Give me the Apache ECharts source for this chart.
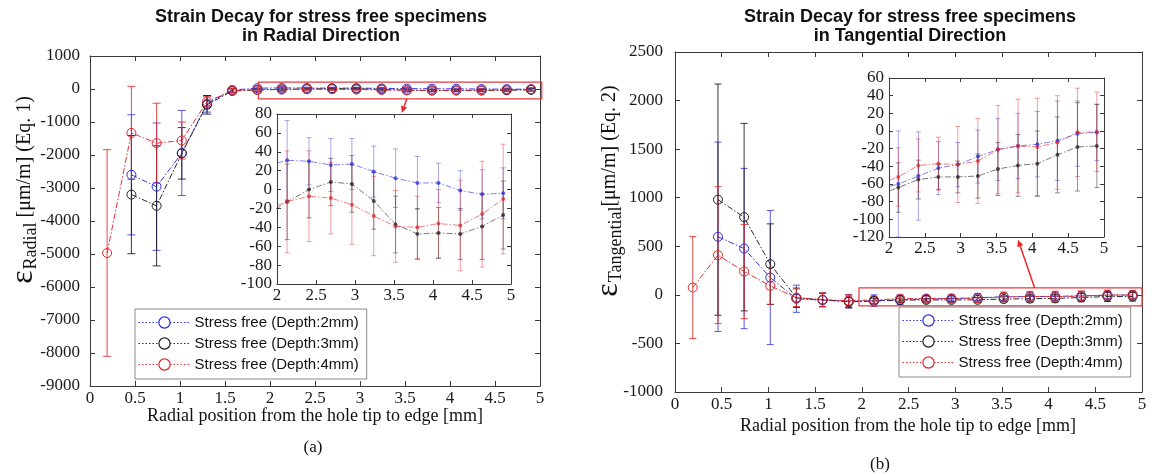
<!DOCTYPE html>
<html><head><meta charset="utf-8">
<script src="https://cdn.jsdelivr.net/npm/echarts@6/dist/echarts.min.js"></script>
<style>html,body{margin:0;padding:0;background:#fff}#c{width:1154px;height:475px}</style>
</head><body><div id="c"></div>
<script>
// ---------- data ----------
const seriesNames = ['Stress free (Depth:2mm)', 'Stress free (Depth:3mm)', 'Stress free (Depth:4mm)'];
const xPos = [0.46, 0.74, 1.02, 1.30, 1.58, 1.86, 2.13, 2.41, 2.69, 2.96, 3.24, 3.52, 3.80, 4.07, 4.35, 4.63, 4.90];
const xPosRed = [0.19, 0.46, 0.74, 1.02, 1.30, 1.58, 1.86, 2.13, 2.41, 2.69, 2.96, 3.24, 3.52, 3.80, 4.07, 4.35, 4.63, 4.90];

// Radial strain (panel a)
const radBlue     = [-2600, -2960, -1940, -450, -30, 25, 31, 30, 26, 27, 19, 12, 7, 7, -1, -5, -4];
const radBlueErr  = [1820, 1930, 1290, 250, 60, 40, 42, 25, 28, 27, 27, 31, 28, 21, 21, 26, 27];
const radBlack    = [-3200, -3540, -1950, -480, -60, -27, -13, 0, 8, 6, -12, -37, -47, -46, -47, -39, -27];
const radBlackErr = [1790, 1820, 780, 280, 60, 40, 40, 30, 25, 30, 30, 30, 27, 27, 27, 35, 36];
const radRed      = [-4970, -1330, -1640, -1560, -385, -50, -21, -13, -7, -9, -16, -28, -39, -40, -36, -38, -26, -10];
const radRedErr   = [3130, 1410, 1210, 560, 150, 60, 50, 54, 48, 38, 42, 42, 38, 33, 36, 48, 56, 58];

// Tangential strain (panel b)
const tanBlue     = [598, 477, 178, -40, -55, -66, -60, -51, -42, -38, -29, -21, -17, -15, -11, -3, -1.5];
const tanBlueErr  = [975, 825, 690, 140, 70, 70, 60, 50, 30, 25, 30, 35, 37, 37, 45, 37, 32];
const tanBlack    = [980, 800, 316, -30, -50, -72, -64, -55, -52, -52, -51, -43, -39, -37, -27, -18, -17];
const tanBlackErr = [1190, 965, 415, 100, 70, 60, 28, 22, 14, 18, 25, 30, 35, 37, 43, 50, 47];
const tanRed      = [75, 409, 240, 93, -30, -50, -60, -52, -39, -37, -38, -34, -21, -17, -18, -13, -1.5, -1];
const tanRedErr   = [525, 705, 485, 190, 90, 70, 60, 33, 30, 30, 43, 48, 50, 53, 55, 53, 50, 45];

// zoom boxes [xmin, xmax, ymin, ymax] in data units of the main plots
const boxRad = [1.87, 5.02, -300, 210];
const boxTan = [1.97, 5.0, -113, 72];

// ---------- styling ----------
const SERIF = 'Liberation Serif', SANS = 'Liberation Sans';
const COL = {blue: '#2b2be0', black: '#222222', red: '#e3262b'};
const ERRCOL = {blue: 'rgba(60,60,220,0.85)', black: 'rgba(20,20,20,0.85)', red: 'rgba(230,40,45,0.85)'};
const ERRCOL_IN = {blue: 'rgba(60,60,220,0.45)', black: 'rgba(20,20,20,0.45)', red: 'rgba(230,40,45,0.45)'};
const DASHDOT = [6, 2, 1.5, 2];

function axes(gridIndex, min, max, interval, isX, tickLen, margin, z) {
  const common = {
    type: 'value', gridIndex, min, max, interval, z,
    axisLine: {show: true, onZero: false, lineStyle: {color: '#3a3a3a', width: 1}},
    axisTick: {show: true, inside: true, length: tickLen, lineStyle: {color: '#3a3a3a', width: 1}},
    splitLine: {show: false},
    axisPointer: {show: false}
  };
  const main = Object.assign({}, common, {
    position: isX ? 'bottom' : 'left',
    axisLabel: {show: true, margin, fontFamily: SERIF, fontSize: 17, color: '#1a1a1a',
      formatter: function (v) { return '{n|' + String(Math.round(v * 100) / 100) + '}'; },
      rich: {n: {fontFamily: SERIF, fontSize: 17, color: '#1a1a1a'}}}
  });
  const mirror = Object.assign({}, common, {
    position: isX ? 'top' : 'right',
    axisLabel: {show: false}
  });
  return [main, mirror];
}

function lineS(name, xs, ys, color, ai, inset) {
  const s = {
    name, type: 'line', xAxisIndex: ai, yAxisIndex: ai, clip: true, animation: false, silent: true,
    data: xs.map((x, i) => [x, ys[i]]),
    lineStyle: {color, width: inset ? 0.8 : 1, type: DASHDOT, opacity: inset ? 0.75 : 0.95},
    z: inset ? 13 : 3
  };
  if (inset) {
    s.symbol = 'circle'; s.symbolSize = 4;
    s.itemStyle = {color, opacity: 0.75};
  } else {
    s.symbol = 'circle'; s.symbolSize = 9;
    s.itemStyle = {color: 'rgba(255,255,255,0)', borderColor: color, borderWidth: 1};
  }
  return s;
}

function errS(xs, ys, es, color, ai, cap, z) {
  return {
    type: 'custom', xAxisIndex: ai, yAxisIndex: ai, clip: true, silent: true, animation: false, z,
    data: xs.map((x, i) => [x, ys[i], es[i]]),
    encode: {x: 0, y: 1},
    renderItem: function (params, api) {
      const x = api.value(0), y = api.value(1), e = api.value(2);
      const t = api.coord([x, y + e]), b = api.coord([x, y - e]);
      const st = {stroke: color, lineWidth: 1};
      return {type: 'group', children: [
        {type: 'line', shape: {x1: t[0], y1: t[1], x2: b[0], y2: b[1]}, style: st},
        {type: 'line', shape: {x1: t[0] - cap, y1: t[1], x2: t[0] + cap, y2: t[1]}, style: st},
        {type: 'line', shape: {x1: b[0] - cap, y1: b[1], x2: b[0] + cap, y2: b[1]}, style: st}
      ]};
    }
  };
}

function boxS(box, ai) {
  return {
    type: 'custom', xAxisIndex: ai, yAxisIndex: ai, clip: false, silent: true, animation: false, z: 6,
    data: [box], encode: {x: [0, 1], y: [2, 3]},
    renderItem: function (params, api) {
      const a = api.coord([api.value(0), api.value(3)]);
      const b = api.coord([api.value(1), api.value(2)]);
      return {type: 'rect', shape: {x: a[0], y: a[1], width: b[0] - a[0], height: b[1] - a[1]},
        style: {fill: 'none', stroke: '#e8393c', lineWidth: 1.2}};
    }
  };
}

function fromX(xs, vals, lo) {
  const ox = [], ov = [];
  xs.forEach((x, i) => { if (x >= lo) { ox.push(x); ov.push(vals[i]); } });
  return [ox, ov];
}

// ---------- chart ----------
const chart = echarts.init(document.getElementById('c'), null, {renderer: 'canvas'});

const grids = [
  {left: 90, top: 56, width: 450, height: 330, outerBoundsMode: 'none'},
  {left: 277, top: 114, width: 234, height: 170, show: true, backgroundColor: '#fff', borderWidth: 0, z: 10, outerBoundsMode: 'none'},
  {left: 675, top: 52, width: 467, height: 340, outerBoundsMode: 'none'},
  {left: 889, top: 78, width: 215, height: 159, show: true, backgroundColor: '#fff', borderWidth: 0, z: 10, outerBoundsMode: 'none'}
];

const xAxes = [].concat(
  axes(0, 0, 5, 0.5, true, 5, 4, 2),
  axes(1, 2, 5, 0.5, true, 4, 3, 12),
  axes(2, 0, 5, 0.5, true, 5, 4, 2),
  axes(3, 2, 5, 0.5, true, 4, 3, 12)
);
const yAxes = [].concat(
  axes(0, -9000, 1000, 1000, false, 5, 10, 2),
  axes(1, -100, 80, 20, false, 4, 5, 12),
  axes(2, -1000, 2500, 500, false, 5, 12, 2),
  axes(3, -120, 60, 20, false, 4, 5, 12)
);

const series = [];
// Panel a main (axis index 0)
series.push(errS(xPos, radBlue, radBlueErr, ERRCOL.blue, 0, 4, 2));
series.push(errS(xPos, radBlack, radBlackErr, ERRCOL.black, 0, 4, 2));
series.push(errS(xPosRed, radRed, radRedErr, ERRCOL.red, 0, 4, 2));
series.push(lineS(seriesNames[0], xPos, radBlue, COL.blue, 0, false));
series.push(lineS(seriesNames[1], xPos, radBlack, COL.black, 0, false));
series.push(lineS(seriesNames[2], xPosRed, radRed, COL.red, 0, false));
series.push(boxS(boxRad, 0));
// Panel b main (axis index 4)
series.push(errS(xPos, tanBlue, tanBlueErr, ERRCOL.blue, 4, 3.5, 2));
series.push(errS(xPos, tanBlack, tanBlackErr, ERRCOL.black, 4, 3.5, 2));
series.push(errS(xPosRed, tanRed, tanRedErr, ERRCOL.red, 4, 3.5, 2));
series.push(lineS(seriesNames[0], xPos, tanBlue, COL.blue, 4, false));
series.push(lineS(seriesNames[1], xPos, tanBlack, COL.black, 4, false));
series.push(lineS(seriesNames[2], xPosRed, tanRed, COL.red, 4, false));
series.push(boxS(boxTan, 4));
// Insets (axis index 2 and 6)
[[2, radBlue, radBlueErr, radBlack, radBlackErr, radRed, radRedErr],
 [6, tanBlue, tanBlueErr, tanBlack, tanBlackErr, tanRed, tanRedErr]].forEach(function (p) {
  const ai = p[0];
  const sets = [[xPos, p[1], p[2], 'blue', 0], [xPos, p[3], p[4], 'black', 1], [xPosRed, p[5], p[6], 'red', 2]];
  sets.forEach(function (s) {
    const e = fromX(s[0], s[2], 2.0);
    const ev = fromX(s[0], s[1], 2.0);
    series.push(errS(e[0], ev[1], e[1], ERRCOL_IN[s[3]], ai, 2.5, 12));
  });
  sets.forEach(function (s) {
    const v = fromX(s[0], s[1], 1.8);
    series.push(lineS(seriesNames[s[4]], v[0], v[1], COL[s[3]], ai, true));
  });
});

const legendCommon = {
  data: seriesNames, orient: 'vertical', itemWidth: 52, itemHeight: 14, itemGap: 6,
  padding: [6, 8, 7, 3], backgroundColor: '#fff', borderColor: '#8a8a8a', borderWidth: 1, borderRadius: 0,
  textStyle: {fontFamily: SANS, fontSize: 15, color: '#111', padding: [0, 0, 0, -1]},
  lineStyle: {type: [1.5, 2], width: 1},
  itemStyle: {color: '#fff', borderWidth: 1.2},
  selectedMode: false, z: 20
};

chart.setOption({
  animation: false,
  backgroundColor: '#fff',
  textStyle: {fontFamily: SERIF},
  title: [
    {text: 'Strain Decay for stress free specimens\nin Radial Direction', left: 316, top: 3, textAlign: 'center',
     textStyle: {fontFamily: SANS, fontWeight: 'bold', fontSize: 18, lineHeight: 19, color: '#111'}},
    {text: 'Strain Decay for stress free specimens\nin Tangential Direction', left: 905, top: 3, textAlign: 'center',
     textStyle: {fontFamily: SANS, fontWeight: 'bold', fontSize: 18, lineHeight: 19, color: '#111'}}
  ],
  legend: [
    Object.assign({}, legendCommon, {left: 135, top: 309}),
    Object.assign({}, legendCommon, {left: 899, top: 307})
  ],
  grid: grids,
  xAxis: xAxes,
  yAxis: yAxes,
  series: series
});

// ---------- texts and arrows ----------
function arrow(p0, p1) {
  const dx = p1[0] - p0[0], dy = p1[1] - p0[1], L = Math.sqrt(dx * dx + dy * dy);
  const ux = dx / L, uy = dy / L, hl = 7, hw = 3.2;
  const bx = p1[0] - ux * hl, by = p1[1] - uy * hl;
  return [
    {type: 'line', z: 30, shape: {x1: p0[0], y1: p0[1], x2: bx, y2: by}, style: {stroke: '#e8262b', lineWidth: 1.5}},
    {type: 'polygon', z: 30, shape: {points: [[p1[0], p1[1]], [bx - uy * hw, by + ux * hw], [bx + uy * hw, by - ux * hw]]},
     style: {fill: '#e8262b'}}
  ];
}
const aS = chart.convertToPixel({xAxisIndex: 0, yAxisIndex: 0}, [3.52, boxRad[2]]);
const aE = chart.convertToPixel({xAxisIndex: 2, yAxisIndex: 2}, [3.60, 81]);
const bS = chart.convertToPixel({xAxisIndex: 4, yAxisIndex: 4}, [3.85, boxTan[3]]);
const bE = chart.convertToPixel({xAxisIndex: 6, yAxisIndex: 6}, [3.80, -123]);

const ylabRich = {
  e: {fontFamily: SERIF, fontSize: 32, lineHeight: 32, verticalAlign: 'bottom', padding: [0, 1, 0, 0]},
  s: {fontFamily: SERIF, fontSize: 18, lineHeight: 18, verticalAlign: 'bottom', padding: [0, 0, 0, 0]},
  t: {fontFamily: SERIF, fontSize: 20, lineHeight: 20, verticalAlign: 'bottom', padding: [0, 0, 5, 0]}
};

chart.setOption({
  graphic: [
    {type: 'text', x: 24, y: 190, rotation: Math.PI / 2, z: 30,
     style: {text: '{e|ε}{s|Radial}{t| [μm/m] (Eq. 1)}', rich: ylabRich, align: 'center', verticalAlign: 'middle', fill: '#111'}},
    {type: 'text', x: 609, y: 191, rotation: Math.PI / 2, z: 30,
     style: {text: '{e|ε}{s|Tangential}{t|[μm/m] (Eq. 2)}', rich: ylabRich, align: 'center', verticalAlign: 'middle', fill: '#111'}},
    {type: 'text', x: 315, y: 416, z: 30,
     style: {text: 'Radial position from the hole tip to edge [mm]', font: '18px "Liberation Serif"', align: 'center', verticalAlign: 'middle', fill: '#111'}},
    {type: 'text', x: 908, y: 426, z: 30,
     style: {text: 'Radial position from the hole tip to edge [mm]', font: '18px "Liberation Serif"', align: 'center', verticalAlign: 'middle', fill: '#111'}},
    {type: 'text', x: 313, y: 448, z: 30,
     style: {text: '(a)', font: '17px "Liberation Serif"', align: 'center', verticalAlign: 'middle', fill: '#111'}},
    {type: 'text', x: 880, y: 465, z: 30,
     style: {text: '(b)', font: '17px "Liberation Serif"', align: 'center', verticalAlign: 'middle', fill: '#111'}}
  ].concat(arrow(aS, aE), arrow(bS, bE))
});
</script>
</body></html>
